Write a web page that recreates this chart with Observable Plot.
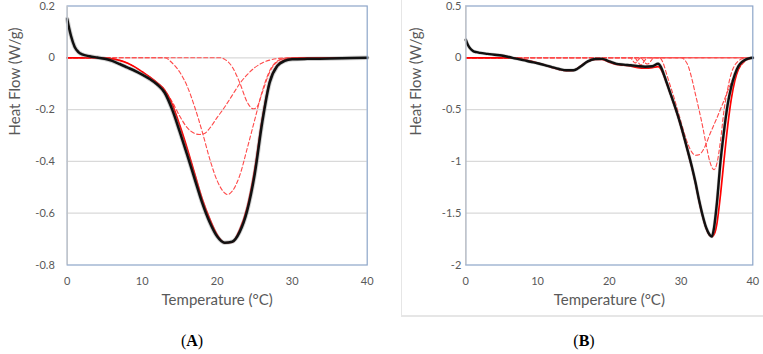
<!DOCTYPE html>
<html>
<head>
<meta charset="utf-8">
<script src="https://cdn.jsdelivr.net/npm/d3@7"></script>
<script src="https://cdn.jsdelivr.net/npm/@observablehq/plot@0.6"></script>
<style>
  html, body { margin: 0; padding: 0; background: #fff; }
  #wrap { position: relative; width: 763px; height: 354px; background: #fff; overflow: hidden; }
  .panel { position: absolute; top: 0; }
  .cap { position: absolute; font-family: "Liberation Serif", "DejaVu Serif", serif; font-size: 16px; color: #000; transform: translate(-50%, -50%); white-space: nowrap; }
  #outerB { position: absolute; left: 401px; top: 0; width: 362px; height: 315px; border-left: 1px solid #e6e6e6; border-bottom: 2px solid #e6e6e6; }
</style>
</head>
<body>
<div id="wrap">
  <div id="outerB"></div>
  <div class="panel" id="pA" style="left:0px"></div>
  <div class="panel" id="pB" style="left:383px"></div>
  <div class="cap" style="left:192px; top:341px">(<b>A</b>)</div>
  <div class="cap" style="left:584px; top:341px">(<b>B</b>)</div>
</div>
<script>
// ---------- tick labels ----------
const xTicks = [0, 10, 20, 30, 40];
const aYTicks = [0.2, 0, -0.2, -0.4, -0.6, -0.8];
const bYTicks = [0.5, 0, -0.5, -1, -1.5, -2];
const xLabel = "Temperature (°C)";
const yLabel = "Heat Flow (W/g)";

// ---------- Panel A : [temperature, heat flow] ----------
const aMeasured = [[0,0.15],[0.25,0.115],[0.5,0.085],[1,0.042],[1.5,0.022],[2,0.013],[3,0.006],[4,0.001],[5,-0.004],[6,-0.012],[7,-0.024],[8,-0.037],[9,-0.05],[10,-0.065],[11,-0.082],[12,-0.103],[13,-0.135],[14,-0.2],[15,-0.285],[16,-0.375],[17,-0.468],[18,-0.56],[19,-0.635],[20,-0.69],[21,-0.714],[22,-0.71],[23,-0.672],[24,-0.59],[25,-0.45],[26,-0.25],[27,-0.095],[28,-0.032],[29,-0.012],[30,-0.006],[32,-0.004],[35,-0.003],[38,-0.001],[40,0]];
const aFit = [[0,0],[4,0],[5,-0.001],[6,-0.004],[7,-0.01],[8,-0.02],[9,-0.035],[10,-0.054],[11,-0.074],[12,-0.097],[13,-0.125],[14,-0.18],[15,-0.26],[16,-0.35],[17,-0.448],[18,-0.545],[19,-0.622],[20,-0.684],[21,-0.714],[22,-0.712],[23,-0.664],[24,-0.578],[25,-0.432],[26,-0.238],[27,-0.09],[28,-0.03],[29,-0.008],[30,-0.002],[31,0],[40,0]];
const aPeak1 = [[0,0],[4,0],[5,-0.001],[6,-0.004],[7,-0.01],[8,-0.02],[9,-0.035],[10,-0.054],[11,-0.074],[12,-0.097],[13,-0.125],[14,-0.17],[15,-0.225],[16,-0.27],[17,-0.292],[17.6,-0.296],[18.3,-0.292],[19,-0.272],[20,-0.23],[21,-0.19],[22,-0.145],[23,-0.1],[24,-0.065],[25,-0.038],[26,-0.02],[27,-0.009],[28,-0.003],[29,-0.001],[30,0],[40,0]];
const aPeak2 = [[0,0],[13,0],[14,-0.02],[15,-0.055],[16,-0.11],[17,-0.19],[18,-0.285],[19,-0.39],[20,-0.475],[21,-0.522],[21.4,-0.528],[22,-0.515],[23,-0.455],[24,-0.35],[25,-0.24],[26,-0.13],[27,-0.05],[28,-0.013],[29,-0.002],[30,0],[40,0]];
const aPeak3 = [[0,0],[20.5,0],[21,-0.006],[22,-0.035],[23,-0.096],[24,-0.171],[24.8,-0.197],[25.3,-0.19],[26,-0.135],[27,-0.055],[28,-0.015],[29,-0.003],[30,0],[40,0]];

// ---------- Panel B ----------
const bMeasured = [[0,0.174],[0.25,0.13],[0.5,0.1],[1,0.066],[1.5,0.054],[2,0.047],[3,0.038],[4,0.03],[5,0.022],[6,0.008],[7,-0.008],[8,-0.022],[9,-0.038],[10,-0.053],[11,-0.07],[12,-0.09],[13,-0.108],[14,-0.12],[15,-0.12],[15.5,-0.108],[16,-0.085],[17,-0.035],[18,-0.012],[19,-0.01],[20,-0.035],[21,-0.058],[22,-0.066],[23,-0.072],[24,-0.08],[25,-0.086],[26,-0.082],[26.8,-0.058],[27.2,-0.09],[27.6,-0.16],[28,-0.24],[28.5,-0.34],[29,-0.44],[29.5,-0.545],[30,-0.66],[30.5,-0.785],[31,-0.915],[31.5,-1.05],[32,-1.2],[32.5,-1.37],[33,-1.52],[33.5,-1.64],[34,-1.71],[34.3,-1.725],[34.6,-1.64],[35,-1.4],[35.5,-1.0],[36,-0.7],[36.5,-0.45],[37,-0.28],[37.5,-0.16],[38,-0.08],[38.5,-0.04],[39,-0.017],[39.5,-0.005],[40,0]];
const bFit = [[0,0],[6.5,0],[7,-0.002],[8,-0.015],[9,-0.032],[10,-0.05],[11,-0.07],[12,-0.093],[13,-0.113],[14,-0.125],[15,-0.122],[15.5,-0.105],[16,-0.08],[17,-0.035],[18,-0.015],[19,-0.015],[20,-0.042],[21,-0.065],[22,-0.072],[23,-0.08],[24,-0.095],[25,-0.1],[26,-0.095],[26.8,-0.085],[27.2,-0.11],[27.6,-0.17],[28,-0.245],[28.5,-0.345],[29,-0.445],[29.5,-0.55],[30,-0.665],[30.5,-0.79],[31,-0.92],[31.5,-1.055],[32,-1.205],[32.5,-1.375],[33,-1.525],[33.5,-1.645],[34,-1.715],[34.3,-1.725],[34.7,-1.69],[35,-1.6],[35.5,-1.32],[36,-0.98],[36.5,-0.66],[37,-0.4],[37.5,-0.22],[38,-0.11],[38.5,-0.05],[39,-0.018],[39.5,-0.005],[40,0]];
const bPeak1 = [[0,0],[27,0],[27.5,-0.05],[28,-0.16],[28.5,-0.27],[29,-0.38],[29.5,-0.5],[30,-0.62],[30.5,-0.74],[31,-0.84],[31.5,-0.91],[32,-0.94],[32.5,-0.935],[33,-0.9],[33.5,-0.83],[34,-0.74],[34.5,-0.66],[35,-0.58],[36,-0.41],[37,-0.24],[38,-0.11],[39,-0.03],[40,0]];
const bPeak2 = [[0,0],[30,0],[30.5,-0.02],[31,-0.08],[31.5,-0.2],[32,-0.35],[32.5,-0.5],[33,-0.66],[33.5,-0.84],[34,-1.0],[34.6,-1.08],[35,-1.02],[35.5,-0.8],[36,-0.5],[36.5,-0.3],[37,-0.15],[37.5,-0.07],[38,-0.03],[38.5,-0.01],[39,0],[40,0]];
const bPeakS1 = [[0,0],[22.9,0],[23.2,-0.02],[23.4,-0.04],[23.6,-0.05],[23.8,-0.04],[24.1,-0.015],[24.4,0],[40,0]];
const bPeakS2 = [[0,0],[23.5,0],[23.9,-0.03],[24.2,-0.06],[24.4,-0.07],[24.6,-0.06],[24.9,-0.03],[25.3,0],[40,0]];
const bPeakS3 = [[0,0],[24.4,0],[24.8,-0.03],[25.1,-0.055],[25.3,-0.06],[25.5,-0.055],[25.8,-0.03],[26.2,0],[40,0]];

const fmt = d => String(d);
const FONT = "Lato, 'Open Sans', 'Liberation Sans', sans-serif";

function panel(o) {
  const dashed = o.peaks.map(p => Plot.line(p, {x: d => d[0], y: d => d[1], curve: "monotone-x", stroke: "#ff4a4a", strokeWidth: 1.1, strokeDasharray: "4,2.5"}));
  return Plot.plot({
    width: o.width, height: 320,
    marginLeft: o.ml, marginRight: o.mr, marginTop: 5.5, marginBottom: 55.5,
    x: {domain: [0, 40]},
    y: {domain: [o.yTicks[o.yTicks.length - 1], o.yTicks[0]]},
    style: {fontFamily: FONT, fontSize: "11px", color: "#595959", background: "transparent", overflow: "visible"},
    marks: [
      Plot.gridY(o.yTicks.slice(1, -1), {stroke: "#d9d9d9", strokeOpacity: 1, strokeWidth: 1.2}),
      Plot.axisY(o.yTicks, {tickSize: 0, tickPadding: o.ypad, tickFormat: fmt, label: null, fontSize: 11}),
      Plot.axisX(xTicks, {tickSize: 0, tickPadding: 12.5, tickFormat: fmt, label: null, fontSize: 11}),
      ...dashed,
      Plot.line(o.fit, {x: d => d[0], y: d => d[1], curve: "monotone-x", stroke: "#ff0000", strokeWidth: 1.7}),
      Plot.line(o.measured, {x: d => d[0], y: d => d[1], curve: "monotone-x", stroke: "#777", strokeWidth: o.halo, strokeOpacity: 0.35}),
      Plot.line(o.measured, {x: d => d[0], y: d => d[1], curve: "monotone-x", stroke: "#111", strokeWidth: o.core}),
      Plot.frame({stroke: "#8da5c9", strokeWidth: 1.2}),
      Plot.ruleX([0], {stroke: "#c9c9c9", strokeWidth: 1.2}),
      Plot.text([xLabel], {text: d => d, frameAnchor: "bottom", dy: 35.5, lineAnchor: "middle", fontSize: 15, fill: "#595959"}),
      Plot.text([yLabel], {text: d => d, frameAnchor: "left", rotate: -90, dx: o.ylabDx, lineAnchor: "middle", fontSize: 15, fill: "#595959"})
    ]
  });
}

document.getElementById("pA").append(panel({
  width: 383, ml: 66.7, mr: 16.3, yTicks: aYTicks, ypad: 12.4, ylabDx: -51.7,
  measured: aMeasured, fit: aFit, peaks: [aPeak1, aPeak2, aPeak3], halo: 4.4, core: 2.5
}));
document.getElementById("pB").append(panel({
  width: 380, ml: 82.3, mr: 10.7, yTicks: bYTicks, ypad: 4.5, ylabDx: -49.3,
  measured: bMeasured, fit: bFit, peaks: [bPeak1, bPeak2, bPeakS1, bPeakS2, bPeakS3], halo: 3.4, core: 2.4
}));
</script>
</body>
</html>
